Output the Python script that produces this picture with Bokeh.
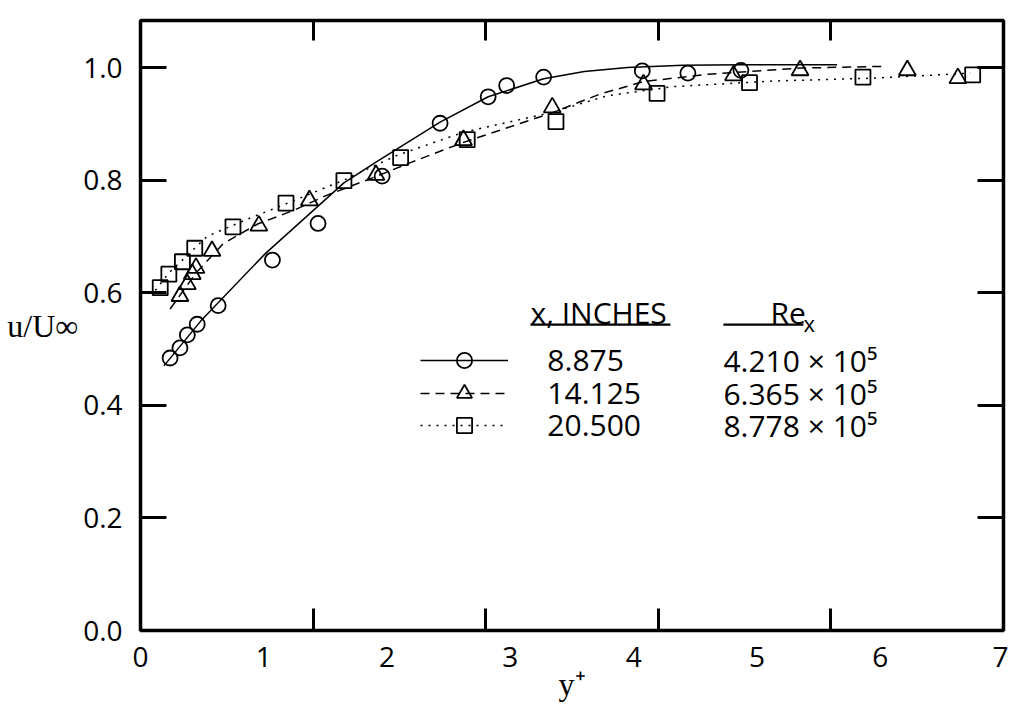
from bokeh.plotting import figure
from bokeh.models import (FixedTicker, LinearAxis, Label, Legend, LegendItem,
                          Range1d, PrintfTickFormatter, BoxAnnotation)
from bokeh.embed import file_html
from bokeh.resources import INLINE

# ---- data ----
# x = 8.875 in (circles)
circ_x = [0.24, 0.32, 0.38, 0.46, 0.63, 1.07, 1.44, 1.96, 2.43, 2.82, 2.97, 3.27, 4.07, 4.44, 4.87]
circ_y = [0.484, 0.502, 0.525, 0.544, 0.577, 0.658, 0.723, 0.807, 0.901, 0.948, 0.968, 0.983, 0.994, 0.990, 0.995]
# x = 14.125 in (triangles)
tri_x = [0.32, 0.38, 0.42, 0.45, 0.58, 0.96, 1.37, 1.91, 2.62, 3.34, 4.08, 4.81, 5.35, 6.22, 6.63]
tri_y = [0.594, 0.615, 0.633, 0.644, 0.674, 0.719, 0.764, 0.809, 0.871, 0.929, 0.970, 0.986, 0.995, 0.995, 0.981]
# x = 20.500 in (squares)
sq_x = [0.16, 0.23, 0.34, 0.44, 0.75, 1.18, 1.65, 2.11, 2.65, 3.37, 4.19, 4.94, 5.86, 6.75]
sq_y = [0.609, 0.633, 0.655, 0.679, 0.717, 0.759, 0.799, 0.840, 0.872, 0.904, 0.954, 0.973, 0.983, 0.987]

# faired curves
fit_solid_x = [0.19, 0.49, 1.01, 1.65, 1.91, 2.43, 2.82, 3.27, 3.60, 3.95, 4.40, 4.90, 5.65]
fit_solid_y = [0.470, 0.550, 0.669, 0.795, 0.832, 0.903, 0.948, 0.980, 0.993, 1.000, 1.004, 1.005, 1.005]
fit_dash_x = [0.24, 0.45, 0.67, 0.95, 1.24, 1.50, 1.87, 2.20, 2.62, 3.33, 3.73, 4.08, 4.60, 5.35, 6.03]
fit_dash_y = [0.571, 0.635, 0.687, 0.722, 0.746, 0.772, 0.803, 0.832, 0.867, 0.919, 0.953, 0.975, 0.988, 0.999, 1.002]
fit_dot_x = [0.12, 0.23, 0.54, 0.87, 1.08, 1.65, 2.08, 2.62, 3.33, 3.79, 4.32, 5.13, 5.94, 6.73]
fit_dot_y = [0.604, 0.635, 0.700, 0.731, 0.749, 0.800, 0.844, 0.885, 0.920, 0.950, 0.966, 0.976, 0.981, 0.990]

series_x_in = ["8.875", "14.125", "20.500"]
series_rex = ["4.210 \u00d7 10\u2075", "6.365 \u00d7 10\u2075", "8.778 \u00d7 10\u2075"]

y_ticks = [0.0, 0.2, 0.4, 0.6, 0.8, 1.0]
x_labels = [0, 1, 2, 3, 4, 5, 6, 7]
x_marks = [1.4, 2.8, 4.2, 5.6]

SANS = "Open Sans"
SERIF = "Liberation Serif"

p = figure(frame_width=863, frame_height=610,
           x_range=Range1d(0, 7), y_range=Range1d(0, 1.0835),
           output_backend="svg", toolbar_location=None,
           x_axis_location=None, y_axis_location=None,
           min_border_left=140, min_border_right=5,
           min_border_top=20, min_border_bottom=86)
p.xgrid.visible = False
p.ygrid.visible = False
p.outline_line_color = "black"
p.outline_line_width = 3.5
p.outline_line_alpha = 1.0
p.background_fill_color = "white"
p.border_fill_color = "white"

left = LinearAxis(ticker=FixedTicker(ticks=y_ticks),
                  formatter=PrintfTickFormatter(format="%.1f"),
                  major_tick_in=26, major_tick_out=0, major_tick_line_width=3,
                  minor_tick_line_color=None, axis_line_color=None,
                  major_label_standoff=18,
                  major_label_text_font=SANS, major_label_text_font_size="28px",
                  major_label_text_color="black",
                  axis_label="u/U\u221e", axis_label_orientation="horizontal",
                  axis_label_standoff=2,
                  axis_label_text_font=SERIF, axis_label_text_font_size="32px",
                  axis_label_text_font_style="normal", axis_label_text_color="black")
p.add_layout(left, "left")

right = LinearAxis(ticker=FixedTicker(ticks=[], minor_ticks=y_ticks[1:]),
                   major_tick_line_color=None,
                   minor_tick_in=26, minor_tick_out=0, minor_tick_line_width=3,
                   axis_line_color=None, major_label_standoff=0)
p.add_layout(right, "right")

top = LinearAxis(ticker=FixedTicker(ticks=[], minor_ticks=x_marks),
                 major_tick_line_color=None,
                 minor_tick_in=20, minor_tick_out=0, minor_tick_line_width=3,
                 axis_line_color=None, major_label_standoff=0)
p.add_layout(top, "above")

bottom = LinearAxis(ticker=FixedTicker(ticks=x_labels, minor_ticks=x_marks),
                    major_tick_in=0, major_tick_out=0,
                    minor_tick_in=22, minor_tick_out=0, minor_tick_line_width=3,
                    axis_line_color=None, major_label_standoff=16,
                    major_label_text_font=SANS, major_label_text_font_size="28px",
                    major_label_text_color="black",
                    axis_label="y\u207a", axis_label_standoff=-4,
                    axis_label_text_font=SERIF, axis_label_text_font_size="32px",
                    axis_label_text_font_style="normal", axis_label_text_color="black")
p.add_layout(bottom, "below")

# curves
r_solid = p.line(fit_solid_x, fit_solid_y, line_color="black", line_width=1.5)
r_dash = p.line(fit_dash_x, fit_dash_y, line_color="black", line_width=1.5, line_dash="9 6")
r_dot = p.line(fit_dot_x, fit_dot_y, line_color="black", line_width=1.5, line_dash="2 6")

# markers
mk = dict(fill_color=None, line_color="black", line_width=1.8)
r_c = p.scatter(circ_x, circ_y, marker="circle", size=15, **mk)
r_t = p.scatter(tri_x, tri_y, marker="triangle", size=17, **mk)
r_s = p.scatter(sq_x, sq_y, marker="square", size=15, **mk)

# legend key samples: one small legend per row, texts set as labels beside them
rows = [([r_solid, r_c], 251), ([r_dash, r_t], 218), ([r_dot, r_s], 186)]
for rends, ypos in rows:
    lg = Legend(items=[LegendItem(label="", renderers=rends)],
                location=(280, ypos), padding=0, margin=0, spacing=0,
                glyph_width=88, glyph_height=38, label_height=38,
                label_width=0, label_standoff=0, border_line_color=None,
                background_fill_alpha=0, label_text_font_size="1px")
    p.add_layout(lg)

row_y = [0.4796, 0.421, 0.364]
txt = dict(text_font=SANS, text_font_size="30px", text_color="black",
           text_baseline="middle", text_align="left")
for yv, t in zip(row_y, series_x_in):
    p.add_layout(Label(x=3.30, y=yv, text=t, **txt))
for yv, t in zip(row_y, series_rex):
    p.add_layout(Label(x=4.728, y=yv, text=t, **txt))

p.add_layout(Label(x=3.163, y=0.565, text="x, INCHES", **txt))
p.add_layout(BoxAnnotation(left=3.163, right=4.298, bottom=0.5415, top=0.5455,
                           fill_color="black", fill_alpha=1, line_color=None))
p.add_layout(Label(x=5.11, y=0.565, text="Re", **txt))
p.add_layout(Label(x=5.377, y=0.546, text="x", text_font=SANS, text_font_size="22px",
                   text_color="black", text_baseline="middle", text_align="left"))
p.add_layout(BoxAnnotation(left=4.728, right=5.377, bottom=0.5415, top=0.5455,
                           fill_color="black", fill_alpha=1, line_color=None))

open("out.html", "w").write(file_html(p, INLINE))
